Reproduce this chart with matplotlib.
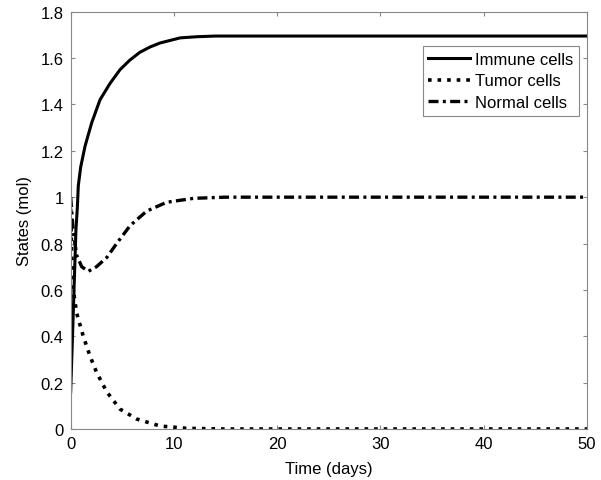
import matplotlib
matplotlib.use('Agg')

import numpy as np
import matplotlib.pyplot as plt
from matplotlib.ticker import FuncFormatter

# values
t_immune = [0, 0.25, 0.51, 0.64, 0.74, 0.97, 1.39, 2.03, 2.84, 3.8, 4.78, 5.7, 6.7, 7.7, 8.65, 10.6, 12.2, 14, 20, 30, 40, 50]
immune = [0.16, 0.50, 0.86, 0.95, 1.05, 1.13, 1.22, 1.32, 1.42, 1.49, 1.55, 1.59, 1.625, 1.648, 1.665, 1.687, 1.692, 1.695, 1.695, 1.695, 1.695, 1.695]

t_tumor = [0, 0.1, 0.25, 0.58, 1.22, 1.87, 2.5, 3.5, 4.78, 6.4, 8.65, 11.2, 15, 20, 30, 40, 50]
tumor = [0.95, 0.75, 0.60, 0.50, 0.40, 0.315, 0.245, 0.16, 0.086, 0.043, 0.013, 0.003, 0.0, 0.0, 0.0, 0.0, 0.0]

t_normal = [0, 0.25, 0.58, 1.07, 1.7, 2.5, 3.5, 4.45, 5.75, 7.36, 9.3, 11.9, 15, 20, 30, 40, 50]
normal = [1.0, 0.85, 0.75, 0.70, 0.68, 0.70, 0.74, 0.80, 0.877, 0.94, 0.978, 0.995, 1.0, 1.0, 1.0, 1.0, 1.0]

x_ticks = [0, 10, 20, 30, 40, 50]
y_ticks = [0, 0.2, 0.4, 0.6, 0.8, 1.0, 1.2, 1.4, 1.6, 1.8]

plt.rcParams['font.family'] = ['Liberation Sans', 'DejaVu Sans']
plt.rcParams['font.size'] = 12

fig = plt.figure(figsize=(6.01, 4.81), dpi=100)
ax = fig.add_axes([0.1176, 0.106, 0.859, 0.8676])

ax.plot(t_immune, immune, 'k-', linewidth=2.2, label='Immune cells')
ax.plot(t_tumor, tumor, 'k:', linewidth=2.6, label='Tumor cells')
ax.plot(t_normal, normal, color='k', linestyle=(0, (3.0, 1.3, 0.9, 1.3)), linewidth=2.4, label='Normal cells')

ax.set_xlim(0, 50)
ax.set_ylim(0, 1.8)
ax.set_xticks(x_ticks)
ax.set_yticks(y_ticks)
ax.yaxis.set_major_formatter(FuncFormatter(lambda v, p: '%g' % v))
ax.tick_params(direction='in', top=True, right=True, length=3, color='#888888', labelsize=12, pad=5)
for s in ax.spines.values():
    s.set_color('#888888')
    s.set_linewidth(0.8)

ax.set_xlabel('Time (days)', fontsize=12, labelpad=7)
ax.set_ylabel('States (mol)', fontsize=12, labelpad=6)

leg = ax.legend(loc='upper right', bbox_to_anchor=(0.985, 0.918), fancybox=False,
                edgecolor='#888888', framealpha=1, fontsize=12, handlelength=2.5,
                borderpad=0.35, labelspacing=0.4, handletextpad=0.3, borderaxespad=0)
leg.get_frame().set_linewidth(0.8)

fig.savefig('out.png', dpi=100)
